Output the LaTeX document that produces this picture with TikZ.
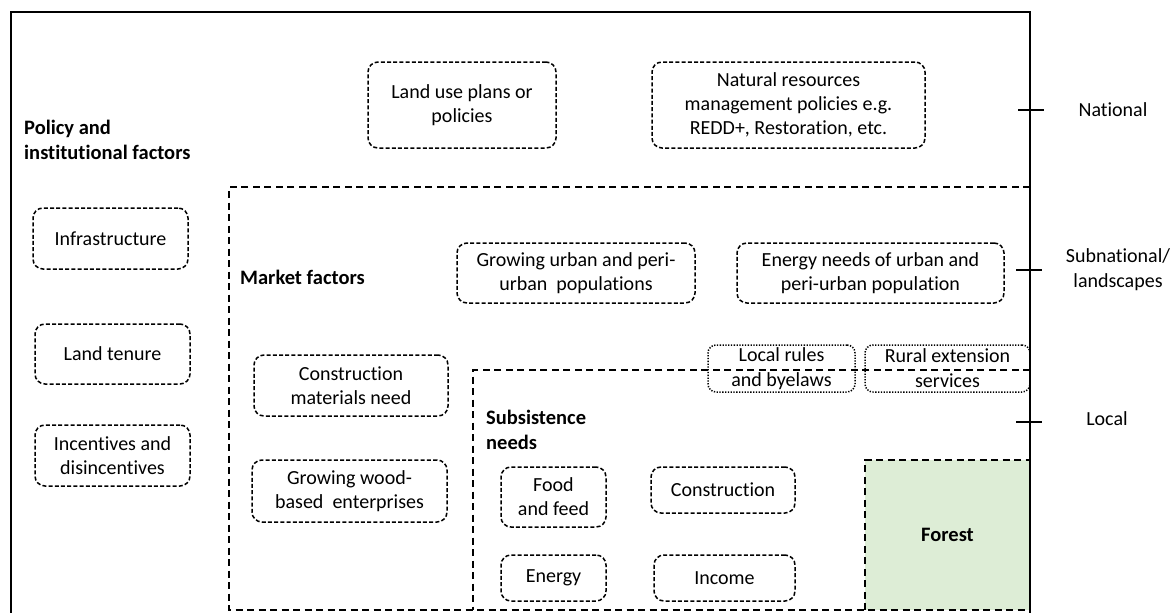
\documentclass[tikz,border=0pt]{standalone}
\usepackage{fontspec}
\setmainfont{Carlito}[Ligatures=NoCommon]
\definecolor{forestgreen}{RGB}{221,237,214}
\begin{document}
\begin{tikzpicture}[x=1pt,y=-1pt,
  every node/.style={font=\fontsize{20}{24}\selectfont, align=center},
  rbox/.style={draw, line width=1.5pt, dash pattern=on 4pt off 2.2pt, rounded corners=10pt, inner sep=0pt},
  dbox/.style={draw, line width=1.5pt, dash pattern=on 1.3pt off 1.5pt, rounded corners=8pt, inner sep=0pt, font=\fontsize{20}{25}\selectfont},
  region/.style={draw, line width=1.5pt, dash pattern=on 7pt off 4.5pt},
  lbl/.style={font=\fontsize{20.5}{25}\selectfont\bfseries, align=left, anchor=west, inner sep=0pt},
  scalelbl/.style={font=\fontsize{20}{25}\selectfont, align=center},
  ticks/.style={line width=1.3pt},
]
\useasboundingbox (0,0) rectangle (1175,613);

% forest fill
\fill[forestgreen] (865,460) rectangle (1030,610);

% regions
\draw[region] (1030,187) -- (229,187) -- (229,610) -- (1030,610);
\draw[region] (1030,370) -- (473,370) -- (473,610);
\draw[region] (865,610) -- (865,460) -- (1030,460) -- (1030,610);

% outer frame
\draw[line width=1.4pt] (11,12) -- (1030,12) -- (1030,613);
\draw[line width=2.2pt] (11,11.3) -- (11,613);

% labels
\node[lbl] (policy) at (24,140) {Policy and\\institutional factors};
\node[lbl] (market) at (240,277) {Market factors};
\node[lbl] (subs) at (486,430) {Subsistence\\needs};
\node[font=\fontsize{20.5}{24}\selectfont\bfseries] (forest) at (947.5,535) {Forest};

% policy boxes
\node[rbox, minimum width=188pt, minimum height=86pt] (landuse) at (462,105) {Land use plans or\\policies};
\node[rbox, minimum width=273pt, minimum height=86pt] (nrm) at (788.5,105) {Natural resources\\management policies e.g.\\REDD+, Restoration, etc.};
\node[rbox, minimum width=155pt, minimum height=61pt] (infra) at (110.5,238.5) {Infrastructure};
\node[rbox, minimum width=155pt, minimum height=60pt] (tenure) at (112.5,354) {Land tenure};
\node[rbox, minimum width=155pt, minimum height=61pt] (incent) at (112.5,455.5) {Incentives and\\disincentives};

% market boxes
\node[rbox, minimum width=238pt, minimum height=60pt] (urban) at (576,273) {Growing urban and peri-\\urban\ \ populations};
\node[rbox, minimum width=267pt, minimum height=60pt] (energyneeds) at (870.5,273) {Energy needs of urban and\\peri-urban population};
\node[rbox, minimum width=194pt, minimum height=61pt] (constmat) at (351,385.5) {Construction\\materials need};
\node[rbox, minimum width=195pt, minimum height=62pt] (wood) at (349.5,491) {Growing wood-\\based\ \ enterprises};

% dotted boxes
\node[dbox, minimum width=147pt, minimum height=47pt] (rules) at (781.5,368.5) {Local rules\\and byelaws};
\node[dbox, minimum width=165pt, minimum height=47pt] (rural) at (947.5,368.5) {Rural extension\\services};

% subsistence boxes
\node[rbox, minimum width=105pt, minimum height=60pt] (food) at (553.5,497) {Food\\and feed};
\node[rbox, minimum width=144pt, minimum height=46pt] (constr) at (723,490) {Construction};
\node[rbox, minimum width=105pt, minimum height=46pt] (energy) at (553.5,578) {Energy};
\node[rbox, minimum width=141pt, minimum height=46pt] (income) at (724.5,578) {Income};

% scale ticks
\coordinate (tnA) at (1018,110); \coordinate (tnB) at (1044,110);
\coordinate (tsA) at (1016,270); \coordinate (tsB) at (1042,270);
\coordinate (tlA) at (1016,422); \coordinate (tlB) at (1042,422);
\draw[ticks] (tnA) -- (tnB);
\draw[ticks] (tsA) -- (tsB);
\draw[ticks] (tlA) -- (tlB);
\node[scalelbl] (national) at (1113,110) {National};
\node[scalelbl] (subnat) at (1118,270) {Subnational/\\landscapes};
\node[scalelbl] (local) at (1107,419) {Local};
\end{tikzpicture}
\end{document}
